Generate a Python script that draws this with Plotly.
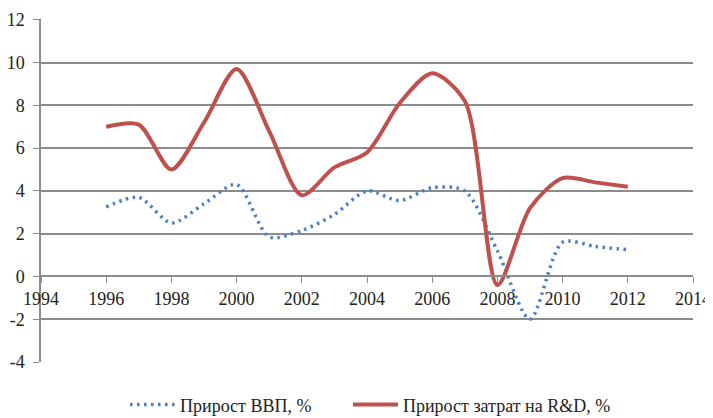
import plotly.graph_objects as go

years = list(range(1996, 2013))
gdp_growth = [3.25, 3.7, 2.5, 3.4, 4.3, 1.85, 2.15, 2.9, 4.0, 3.55, 4.15, 4.0, 1.2, -2.0, 1.6, 1.4, 1.25]
rnd_growth = [7.0, 7.1, 5.0, 7.2, 9.7, 6.8, 3.8, 5.1, 5.8, 8.1, 9.5, 8.2, -0.4, 3.2, 4.6, 4.4, 4.2]

x_ticks = list(range(1994, 2015, 2))
y_ticks = [-4, -2, 0, 2, 4, 6, 8, 10, 12]
y_tick_text = ["-4", "-2", "0", "2", "4", "6", "8", "10", "12"]

GRID = "#8c8c8c"
FONT = "Liberation Serif, Times New Roman, serif"
PAD = "\u00a0" * 7  # extra room between the two legend entries

fig = go.Figure()
fig.add_trace(go.Scatter(
    x=years, y=gdp_growth, mode="lines", name="Прирост ВВП, %" + PAD,
    line=dict(color="#4a7ec6", width=3.5, dash="2.5px,4.5px", shape="spline", smoothing=0.8),
))
fig.add_trace(go.Scatter(
    x=years, y=rnd_growth, mode="lines", name="Прирост затрат на R&D, %",
    line=dict(color="#c0504d", width=4, shape="spline", smoothing=0.8),
))

# the page body has an 8px margin, so the figure is sized to the remaining window
fig.update_layout(
    width=705, height=410,
    margin=dict(l=33, r=20, t=11, b=56, autoexpand=False),
    paper_bgcolor="white", plot_bgcolor="white",
    font=dict(family=FONT, size=18, color="#222"),
    showlegend=True,
    legend=dict(orientation="h", x=0.166, xanchor="left", xref="container",
                y=0.032, yanchor="middle", yref="container", itemwidth=45,
                font=dict(family=FONT, size=18)),
    xaxis=dict(range=[1994, 2014], tickvals=x_ticks, showgrid=False, zeroline=False,
               showline=True, linecolor=GRID, linewidth=1.5,
               ticks="outside", ticklen=6, tickcolor=GRID,
               anchor="free", position=0.25, tickfont=dict(family=FONT, size=18)),
    yaxis=dict(range=[-4, 12.04], tickvals=y_ticks, ticktext=y_tick_text,
               showgrid=True, gridcolor=GRID, gridwidth=1.5, zeroline=False,
               showline=True, linecolor=GRID, linewidth=1.5,
               ticks="outside", ticklen=6, tickcolor=GRID, ticklabelstandoff=5,
               tickfont=dict(family=FONT, size=18)),
)

fig.write_html("out.html")
